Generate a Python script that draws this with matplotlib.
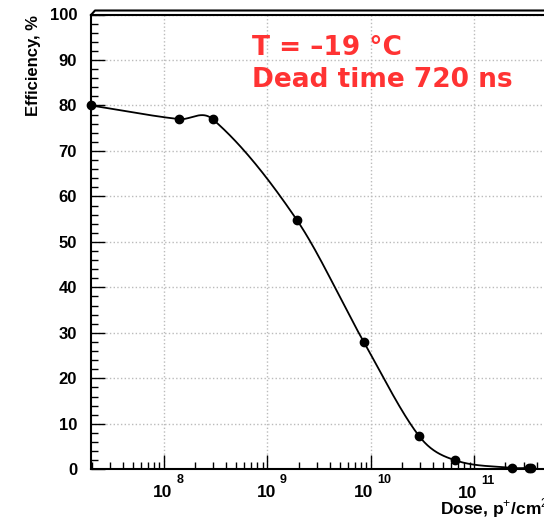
import numpy as np
import matplotlib
matplotlib.use("Agg")
import matplotlib.pyplot as plt
from matplotlib.lines import Line2D
from matplotlib.ticker import LogLocator, MultipleLocator, NullFormatter

plt.rcParams['font.family'] = ['Liberation Sans', 'DejaVu Sans']
plt.rcParams['mathtext.fontset'] = 'custom'
plt.rcParams['mathtext.rm'] = 'Liberation Sans'
plt.rcParams['mathtext.bf'] = 'Liberation Sans:bold'

# data
dose = [1.97e7, 1.40e8, 2.95e8, 1.93e9, 8.55e9, 2.93e10, 6.5e10, 2.34e11, 3.37e11, 3.57e11]
efficiency = [80.0, 77.0, 77.0, 54.8, 28.0, 7.3, 2.0, 0.3, 0.3, 0.3]

x_min, x_max = 1.97e7, 10**11.8
y_ticks = [0, 10, 20, 30, 40, 50, 60, 70, 80, 90, 100]
x_exponents = [8, 9, 10, 11]


def smooth(xs, ys, n=60):
    # cubic hermite curve through the points, in log x
    lx = np.log10(xs)
    y = np.array(ys, dtype=float)
    m = np.zeros_like(y)
    for i in range(1, len(y) - 1):
        m[i] = (y[i + 1] - y[i - 1]) / (lx[i + 1] - lx[i - 1])
    m[0] = (y[1] - y[0]) / (lx[1] - lx[0])
    m[-1] = 0.0
    out_x, out_y = [], []
    t = np.linspace(0, 1, n)
    for i in range(len(y) - 1):
        h = lx[i + 1] - lx[i]
        h00 = 2 * t**3 - 3 * t**2 + 1
        h10 = t**3 - 2 * t**2 + t
        h01 = -2 * t**3 + 3 * t**2
        h11 = t**3 - t**2
        out_x.extend(lx[i] + t * h)
        out_y.extend(h00 * y[i] + h10 * h * m[i] + h01 * y[i + 1] + h11 * h * m[i + 1])
    return 10 ** np.array(out_x), np.array(out_y)


fig = plt.figure(figsize=(5.44, 5.19), dpi=100)
ax = fig.add_axes([91 / 544, 49.7 / 519, (557 - 91) / 544, (504.5 - 49.7) / 519])

cx, cy = smooth(dose, efficiency)
ax.plot(cx, cy, color='black', lw=1.3, clip_on=False, zorder=3)
ax.plot(dose, efficiency, 'o', color='black', ms=6, clip_on=False, zorder=4)

ax.set_xscale('log')
ax.set_xlim(x_min, x_max)
ax.set_ylim(0, 100)

ax.xaxis.set_major_locator(LogLocator(base=10, numticks=20))
ax.xaxis.set_minor_locator(LogLocator(base=10, subs=np.arange(2, 10), numticks=20))
ax.xaxis.set_major_formatter(NullFormatter())
ax.xaxis.set_minor_formatter(NullFormatter())
ax.set_yticks(y_ticks)
ax.yaxis.set_minor_locator(MultipleLocator(2))

ax.tick_params(axis='both', which='major', direction='in', length=10, width=1,
               labelsize=12, top=False, right=False)
ax.tick_params(axis='both', which='minor', direction='in', length=5, width=1,
               top=False, right=False)
ax.tick_params(axis='y', pad=10)
for lab in ax.get_yticklabels():
    lab.set_fontweight('bold')

# ROOT-like decade labels: "10" with a raised exponent (offsets in pixels)
xtr = ax.get_xaxis_transform()
for e in x_exponents:
    dx = -1 if e < 10 else -6.8
    dy = -27.7 if e < 11 else -28.7
    ax.annotate('10', xy=(10.0**e, 0), xycoords=xtr, xytext=(dx * 0.72, dy * 0.72),
                textcoords='offset points', ha='center', va='baseline',
                fontsize=12.5, fontweight='bold', annotation_clip=False)
    ax.annotate(str(e), xy=(10.0**e, 0), xycoords=xtr, xytext=((dx + 13.5) * 0.72, (dy + 14) * 0.72),
                textcoords='offset points', ha='left', va='baseline',
                fontsize=9, fontweight='bold', annotation_clip=False)

ax.grid(True, which='major', color='#bbbbbb', linestyle=':', linewidth=1)
for s in ['left', 'bottom', 'top']:
    ax.spines[s].set_linewidth(1.5)
ax.spines['right'].set_visible(False)

ax.set_ylabel('Efficiency, %', fontsize=12, fontweight='bold', ha='right')
ax.yaxis.set_label_coords(-0.108, 1.0)

fig.text(440 / 544, 5 / 519, 'Dose, p$^{+}$/cm$^{2}$', fontsize=12.5, fontweight='bold',
         ha='left', va='baseline')

# ROOT style double top frame
fig.add_artist(Line2D([91 / 544, 95 / 544, 1.0], [1 - 15 / 519, 1 - 10.5 / 519, 1 - 10.5 / 519],
                      transform=fig.transFigure, color='black', lw=1.5))

ax.text(252 / 544, 1 - 55 / 519, 'T = \u201319 \u00b0C', transform=fig.transFigure,
        fontsize=19, fontweight='bold', color='#ff3333', family='DejaVu Sans', va='baseline')
ax.text(252 / 544, 1 - 87 / 519, 'Dead time 720 ns', transform=fig.transFigure,
        fontsize=19, fontweight='bold', color='#ff3333', family='DejaVu Sans', va='baseline')

plt.savefig('out.png', dpi=100)
